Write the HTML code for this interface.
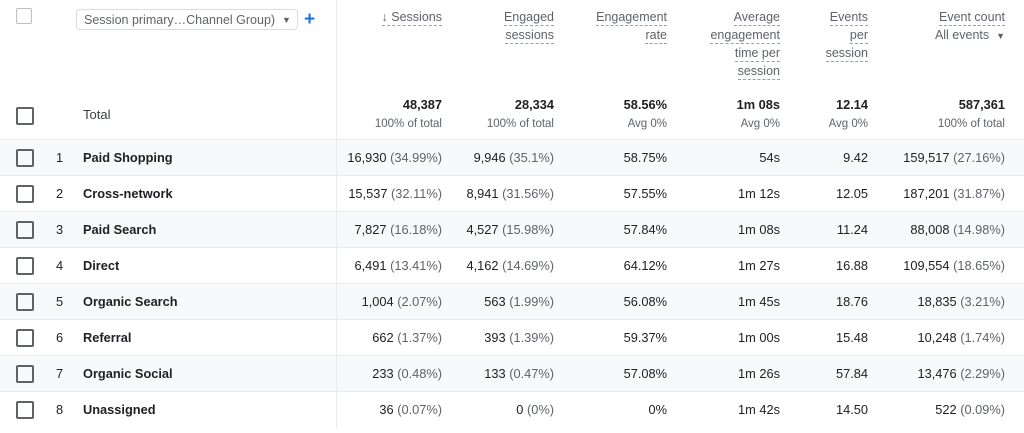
<!DOCTYPE html>
<html><head><meta charset="utf-8">
<style>
body{margin:0;width:1024px;height:433px;background:#fff;overflow:hidden;font-family:"Liberation Sans",Arial,sans-serif;color:#202124;position:relative}
.a{position:absolute;white-space:nowrap}
.r{text-align:right}
.hd{font-size:12.5px;color:#5f6368;line-height:18px}
.hd span{border-bottom:1px dashed #9aa0a6;padding-bottom:1px}
.cb{position:absolute;width:14px;height:14px;border:2px solid #5f6368;border-radius:2px;box-sizing:content-box}
.v{font-size:12.8px;color:#202124}
.g{color:#5f6368}
.b{font-weight:bold}
</style></head><body>
<div class="a" style="left:16px;top:8px;width:14px;height:14px;border:1.5px solid #bdc1c6;border-radius:2px"></div>
<div class="a" style="left:76px;top:9px;width:222px;height:21px;border:1px solid #dadce0;border-radius:4px;font-size:12.5px;color:#5f6368;line-height:21px;padding-left:7px;box-sizing:border-box">Session primary…Channel Group)<span style="position:absolute;left:205px;top:0;font-size:9px">▼</span></div>
<div class="a" style="left:304px;top:9px;font-size:19px;color:#1a73e8;font-weight:bold;line-height:22px">+</div>
<div class="a" style="left:336px;top:0;width:1px;height:428px;background:#e8eaed"></div>
<div id="t"></div>
<script>
const rights=[442,554,667,780,868,1005];
const headers=[["↓ Sessions"],["Engaged","sessions"],["Engagement","rate"],["Average","engagement","time per","session"],["Events","per","session"],["Event count"]];
const totals=["48,387","28,334","58.56%","1m 08s","12.14","587,361"];
const totalSubs=["100% of total","100% of total","Avg 0%","Avg 0%","Avg 0%","100% of total"];
const channels=["Paid Shopping","Cross-network","Paid Search","Direct","Organic Search","Referral","Organic Social","Unassigned"];
const sessions=[[16930,"34.99%"],[15537,"32.11%"],[7827,"16.18%"],[6491,"13.41%"],[1004,"2.07%"],[662,"1.37%"],[233,"0.48%"],[36,"0.07%"]];
const engaged=[[9946,"35.1%"],[8941,"31.56%"],[4527,"15.98%"],[4162,"14.69%"],[563,"1.99%"],[393,"1.39%"],[133,"0.47%"],[0,"0%"]];
const rates=["58.75%","57.55%","57.84%","64.12%","56.08%","59.37%","57.08%","0%"];
const times=["54s","1m 12s","1m 08s","1m 27s","1m 45s","1m 00s","1m 26s","1m 42s"];
const eps=["9.42","12.05","11.24","16.88","18.76","15.48","57.84","14.50"];
const events=[[159517,"27.16%"],[187201,"31.87%"],[88008,"14.98%"],[109554,"18.65%"],[18835,"3.21%"],[10248,"1.74%"],[13476,"2.29%"],[522,"0.09%"]];
const T=document.getElementById('t');
function add(html,style,name,inter){const d=document.createElement('div');d.className='a '+(style.cls||'');d.innerHTML=html;d.style.cssText=style.css;


T.appendChild(d);return d;}
const fmt=n=>n.toLocaleString('en-US');
headers.forEach((h,i)=>{
 let html=h.map(l=>'<span>'+l+'</span>').join('<br>');
 if(i===5) html+='<br><span style="border:none">All events &nbsp;<small style="font-size:9px">▼</small></span>';
 add(html,{cls:'hd r',css:`right:${1024-rights[i]}px;top:8px`},'column-header-'+i,true);
});
add('',{cls:'cb',css:'left:16px;top:107px'},'total-checkbox',true);
add('Total',{cls:'v g',css:'left:83px;top:107px;font-size:13px;color:#3c4043'},'total-label',false);
totals.forEach((v,i)=>{
 add(v,{cls:'v b r',css:`right:${1024-rights[i]}px;top:97px`},'total-value-'+i,false);
 add(totalSubs[i],{cls:'v g r',css:`right:${1024-rights[i]}px;top:118px;font-size:11.5px`},'total-sub-'+i,false);
});
channels.forEach((c,k)=>{
 const y=139+k*36;
 if(k%2===0) add('',{css:`left:0;top:${y}px;width:1024px;height:36px;background:#f8f9fa;z-index:-1`},'row-bg-'+(k+1),false);
 add('',{css:`left:0;top:${y}px;width:1024px;height:1px;background:#e8eaed`},'row-line-'+(k+1),false);
 const ty=y+11;
 add('',{cls:'cb',css:`left:16px;top:${y+10}px`},'row-checkbox-'+(k+1),true);
 add(String(k+1),{cls:'v',css:`left:56px;top:${ty}px`},'row-index-'+(k+1),false);
 add(c,{cls:'v b',css:`left:83px;top:${ty}px`},'channel-'+(k+1),false);
 const cells=[fmt(sessions[k][0])+' <span class="g">('+sessions[k][1]+')</span>',
  fmt(engaged[k][0])+' <span class="g">('+engaged[k][1]+')</span>',
  rates[k],times[k],eps[k],
  fmt(events[k][0])+' <span class="g">('+events[k][1]+')</span>'];
 cells.forEach((h,i)=>add(h,{cls:'v r',css:`right:${1024-rights[i]}px;top:${ty}px`},'cell-'+(k+1)+'-'+i,false));
});
</script>
</body></html>
